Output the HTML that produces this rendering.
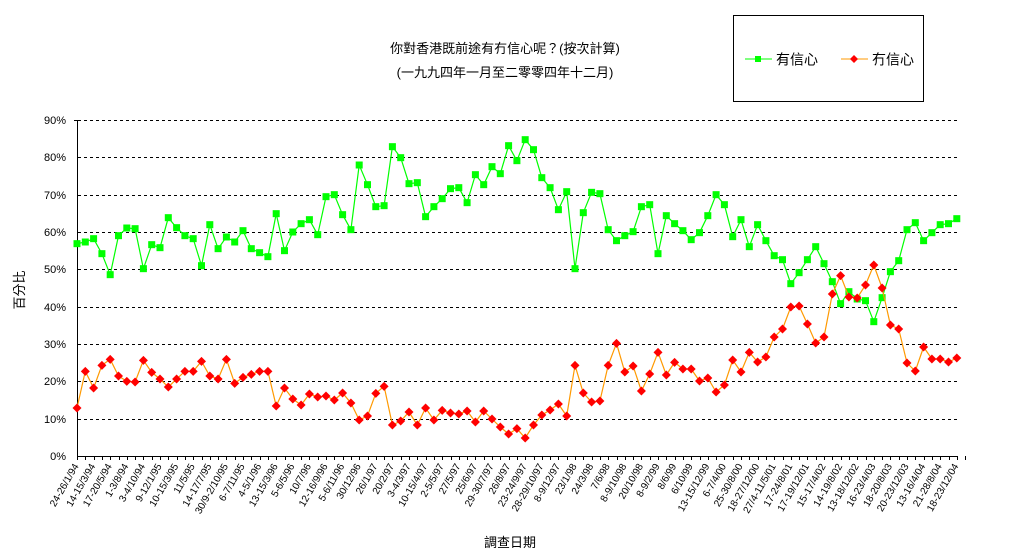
<!DOCTYPE html>
<html><head><meta charset="utf-8"><style>
html,body{margin:0;padding:0;background:#fff;}
svg{display:block;font-family:"Liberation Sans","Noto Sans CJK TC",sans-serif;}
</style></head><body>
<svg id="c" width="1020" height="560" viewBox="0 0 1020 560" xmlns="http://www.w3.org/2000/svg">
<rect width="1020" height="560" fill="#fff"/>
<text x="505" y="53" font-size="13" text-anchor="middle">你對香港既前途有冇信心呢？(按次計算)</text>
<text x="505" y="77" font-size="13" text-anchor="middle">(一九九四年一月至二零零四年十二月)</text>
<rect x="733.5" y="15.5" width="190" height="86" fill="#fff" stroke="#000" stroke-width="1"/>
<line x1="745" y1="59" x2="772" y2="59" stroke="#00ff00" stroke-width="1"/>
<rect x="755" y="56" width="6" height="6" fill="#00ff00"/>
<text x="776" y="64.5" font-size="14">有信心</text>
<line x1="841" y1="59" x2="868" y2="59" stroke="#ff9900" stroke-width="1"/>
<polygon points="854,55 858,59 854,63 850,59" fill="#ff0000"/>
<text x="872" y="64.5" font-size="14">冇信心</text>
<g id="grid" stroke="#000" stroke-dasharray="3,3" stroke-width="1">
<line x1="78" y1="120.5" x2="958" y2="120.5"/>
<line x1="78" y1="157.5" x2="958" y2="157.5"/>
<line x1="78" y1="195.5" x2="958" y2="195.5"/>
<line x1="78" y1="232.5" x2="958" y2="232.5"/>
<line x1="78" y1="269.5" x2="958" y2="269.5"/>
<line x1="78" y1="307.5" x2="958" y2="307.5"/>
<line x1="78" y1="344.5" x2="958" y2="344.5"/>
<line x1="78" y1="381.5" x2="958" y2="381.5"/>
<line x1="78" y1="419.5" x2="958" y2="419.5"/>
</g>
<line x1="77.5" y1="120" x2="77.5" y2="456" stroke="#000"/>
<line x1="74" y1="120.5" x2="77" y2="120.5" stroke="#000"/>
<line x1="77" y1="456.5" x2="958" y2="456.5" stroke="#000"/>
<g font-size="11" text-anchor="end">
<text x="66" y="124">90%</text><text x="66" y="161">80%</text><text x="66" y="199">70%</text>
<text x="66" y="236">60%</text><text x="66" y="273">50%</text><text x="66" y="311">40%</text>
<text x="66" y="348">30%</text><text x="66" y="385">20%</text><text x="66" y="423">10%</text>
<text x="66" y="460">0%</text>
</g>
<text transform="translate(24,290) rotate(-90)" font-size="13" text-anchor="middle">百分比</text>
<text x="510" y="547" font-size="13" text-anchor="middle">調查日期</text>
<g id="ticks" stroke="#000"></g>
<g id="series"></g>
<g id="xl" font-size="10" text-anchor="end">
<text transform="translate(79,466) rotate(-60)">24-26/1/94</text>
<text transform="translate(95.6,466) rotate(-60)">14-15/3/94</text>
<text transform="translate(112.2,466) rotate(-60)">17-20/5/94</text>
<text transform="translate(128.8,466) rotate(-60)">1-3/8/94</text>
<text transform="translate(145.4,466) rotate(-60)">3-4/10/94</text>
<text transform="translate(162,466) rotate(-60)">9-12/1/95</text>
<text transform="translate(178.6,466) rotate(-60)">10-15/3/95</text>
<text transform="translate(195.2,466) rotate(-60)">11/5/95</text>
<text transform="translate(211.8,466) rotate(-60)">14-17/7/95</text>
<text transform="translate(228.4,466) rotate(-60)">30/9-2/10/95</text>
<text transform="translate(245,466) rotate(-60)">6-7/11/95</text>
<text transform="translate(261.6,466) rotate(-60)">4-5/1/96</text>
<text transform="translate(278.2,466) rotate(-60)">13-15/3/96</text>
<text transform="translate(294.8,466) rotate(-60)">5-6/5/96</text>
<text transform="translate(311.4,466) rotate(-60)">10/7/96</text>
<text transform="translate(328,466) rotate(-60)">12-16/9/96</text>
<text transform="translate(344.6,466) rotate(-60)">5-6/11/96</text>
<text transform="translate(361.2,466) rotate(-60)">30/12/96</text>
<text transform="translate(377.8,466) rotate(-60)">26/1/97</text>
<text transform="translate(394.4,466) rotate(-60)">20/2/97</text>
<text transform="translate(411,466) rotate(-60)">3-4/3/97</text>
<text transform="translate(427.6,466) rotate(-60)">10-15/4/97</text>
<text transform="translate(444.2,466) rotate(-60)">2-5/5/97</text>
<text transform="translate(460.8,466) rotate(-60)">27/5/97</text>
<text transform="translate(477.4,466) rotate(-60)">25/6/97</text>
<text transform="translate(494,466) rotate(-60)">29-30/7/97</text>
<text transform="translate(510.6,466) rotate(-60)">26/8/97</text>
<text transform="translate(527.2,466) rotate(-60)">23-24/9/97</text>
<text transform="translate(543.8,466) rotate(-60)">28-29/10/97</text>
<text transform="translate(560.4,466) rotate(-60)">8-9/12/97</text>
<text transform="translate(577,466) rotate(-60)">23/1/98</text>
<text transform="translate(593.6,466) rotate(-60)">24/3/98</text>
<text transform="translate(610.2,466) rotate(-60)">7/6/98</text>
<text transform="translate(626.8,466) rotate(-60)">8-9/10/98</text>
<text transform="translate(643.4,466) rotate(-60)">20/10/98</text>
<text transform="translate(660,466) rotate(-60)">8-9/2/99</text>
<text transform="translate(676.6,466) rotate(-60)">8/6/99</text>
<text transform="translate(693.2,466) rotate(-60)">6/10/99</text>
<text transform="translate(709.8,466) rotate(-60)">13-15/12/99</text>
<text transform="translate(726.4,466) rotate(-60)">6-7/4/00</text>
<text transform="translate(743,466) rotate(-60)">25-30/8/00</text>
<text transform="translate(759.6,466) rotate(-60)">18-27/12/00</text>
<text transform="translate(776.2,466) rotate(-60)">27/4-11/5/01</text>
<text transform="translate(792.8,466) rotate(-60)">17-24/8/01</text>
<text transform="translate(809.4,466) rotate(-60)">17-19/12/01</text>
<text transform="translate(826,466) rotate(-60)">15-17/4/02</text>
<text transform="translate(842.6,466) rotate(-60)">14-19/8/02</text>
<text transform="translate(859.2,466) rotate(-60)">13-18/12/02</text>
<text transform="translate(875.8,466) rotate(-60)">16-23/4/03</text>
<text transform="translate(892.4,466) rotate(-60)">18-20/8/03</text>
<text transform="translate(909,466) rotate(-60)">20-23/12/03</text>
<text transform="translate(925.6,466) rotate(-60)">13-16/4/04</text>
<text transform="translate(942.2,466) rotate(-60)">21-28/8/04</text>
<text transform="translate(958.8,466) rotate(-60)">18-23/12/04</text>
</g>
</svg>
<script>
var G=[401,396,386,431,494,377,354,356,476,404,413,323,353,377,386,467,344,416,381,396,362,416,428,440,311,422,366,341,329,374,260,254,314,359,165,224,
290,287,110,143,221,218,320,290,266,236,233,278,194,224,170,191,107,152,89,119,203,233,299,245,476,308,247,251,359,392,377,365,290,284,431,317,
341,362,389,368,317,254,284,380,329,410,344,392,437,449,521,488,449,410,461,515,581,545,567,572,635,563,485,452,359,338,392,368,344,341,326];
var R=[894,784,834,766,748,798,814,816,751,787,807,831,807,784,784,754,798,807,748,820,802,793,784,784,888,834,867,885,852,861,858,870,849,879,930,918,
850,829,945,933,906,945,894,930,901,909,912,903,936,903,927,951,972,956,984,945,915,900,882,918,766,849,876,873,766,700,786,768,843,792,727,795,
757,777,777,813,804,846,825,750,786,727,756,741,681,657,591,588,642,699,681,552,497,561,564,525,465,534,645,657,759,783,711,747,747,756,744];
var ns="http://www.w3.org/2000/svg";
function el(t,a,p){var e=document.createElementNS(ns,t);for(var k in a)e.setAttribute(k,a[k]);p.appendChild(e);return e;}
var s=document.getElementById("series"),tk=document.getElementById("ticks");
function X(i){return 77+8.3*i;}
function Y(v){return 110+v/3;}
for(var i=0;i<=107;i++){var x=Math.round(77+8.3*i)+0.5;el("line",{x1:x,y1:456,x2:x,y2:460},tk);}
function series(arr,col,mk,mc){
 var pts=arr.map(function(v,i){return X(i).toFixed(1)+","+Y(v).toFixed(1);}).join(" ");
 el("polyline",{points:pts,fill:"none",stroke:col,"stroke-width":1.2},s);
 arr.forEach(function(v,i){var x=X(i),y=Y(v);
  if(mk=="sq")el("rect",{x:x-3.5,y:y-3.5,width:7,height:7,fill:mc},s);
  else el("polygon",{points:x+","+(y-4.5)+" "+(x+4.5)+","+y+" "+x+","+(y+4.5)+" "+(x-4.5)+","+y,fill:mc},s);});
}
series(G,"#00ff00","sq","#00ff00");
series(R,"#ff9900","di","#ff0000");
</script>
</body></html>
